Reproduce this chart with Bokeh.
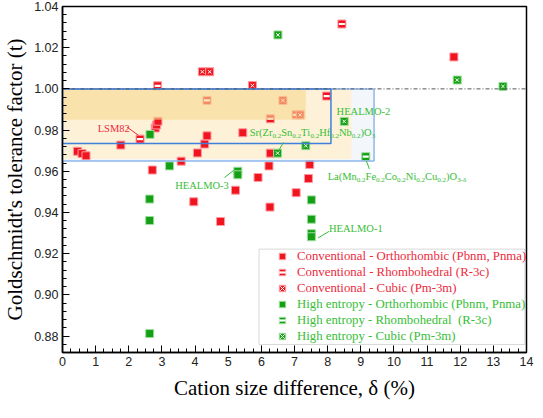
import re
import numpy as np
from bokeh.plotting import figure
from bokeh.models import (ColumnDataSource, Range1d, FixedTicker, NumeralTickFormatter,
                          Legend, LegendItem, Label, BoxAnnotation)
from bokeh.embed import file_html
from bokeh.resources import INLINE

# ---------------- data ----------------
conv_ortho_x = [0.45, 0.59, 0.71, 1.76, 2.80, 2.84, 2.88, 2.71, 3.58, 4.07, 4.29, 4.36, 3.96, 4.77,
                5.22, 5.44, 5.90, 6.23, 6.27, 6.26, 7.05, 7.42, 7.46, 11.81]
conv_ortho_y = [0.9697, 0.9686, 0.9675, 0.9727, 0.9810, 0.9825, 0.9843, 0.9606, 0.9649, 0.9689,
                0.9732, 0.9772, 0.9452, 0.9356, 0.9508, 0.9787, 0.9570, 0.9626, 0.9688, 0.9426,
                0.9496, 0.9565, 0.9633, 1.0155]
conv_rhombo_x = [2.34, 2.87, 4.36, 6.27, 7.05, 7.97, 8.43]
conv_rhombo_y = [0.9756, 1.0015, 0.9944, 0.9855, 0.9874, 0.9965, 1.0315]
conv_cubic_x = [4.22, 4.44, 5.73, 6.65, 7.17]
conv_cubic_y = [1.0083, 1.0083, 1.0016, 0.9944, 0.9874]
he_ortho_x = [2.64, 3.23, 5.29, 5.29, 2.63, 2.63, 2.63, 7.51, 7.51, 7.51, 7.51]
he_ortho_y = [0.9779, 0.9626, 0.9600, 0.9583, 0.9465, 0.9361, 0.8812, 0.9461, 0.9367, 0.9297, 0.9282]
he_rhombo_x = [9.15]
he_rhombo_y = [0.9671]
he_cubic_x = [6.50, 11.91, 13.29, 8.50, 7.34, 6.49]
he_cubic_y = [1.0262, 1.0043, 1.0012, 0.9842, 0.9724, 0.9688]

legend_labels = ["Conventional - Orthorhombic (Pbnm, Pnma)",
                 "Conventional - Rhombohedral (R-3c)",
                 "Conventional - Cubic (Pm-3m)",
                 "High entropy - Orthorhombic (Pbnm, Pnma)",
                 "High entropy - Rhombohedral  (R-3c)",
                 "High entropy - Cubic (Pm-3m)"]

# shaded regions / boxes (x0, x1, y0, y1)
outer_box = (0.0, 9.40, 0.9650, 1.000)
inner_box = (0.0, 8.10, 0.9735, 1.000)
light_band = (0.0, 8.72, 0.9660, 1.000)
dark_band = (0.0, 7.34, 0.9850, 1.000)
ref_line_y = 1.00

# annotations: text with _{sub} markup
label_texts = ["LSM82", "Sr(Zr_{0.2}Sn_{0.2}Ti_{0.2}Hf_{0.2}Nb_{0.2})O_{3}", "HEALMO-2",
               "La(Mn_{0.2}Fe_{0.2}Co_{0.2}Ni_{0.2}Cu_{0.2})O_{3-δ}", "HEALMO-3", "HEALMO-1"]
label_x = [1.06, 5.65, 8.27, 8.00, 3.40, 8.04]
label_y = [0.9810, 0.9787, 0.9889, 0.9575, 0.9532, 0.9323]
label_is_red = [True, False, False, False, False, False]
leader_x0 = [1.95, 6.67, 9.17, 4.89, 7.71]
leader_y0 = [0.9814, 0.9740, 0.9650, 0.9570, 0.9276]
leader_x1 = [2.29, 6.52, 9.26, 5.18, 8.04]
leader_y1 = [0.9775, 0.9700, 0.9611, 0.9606, 0.9308]
leader_is_red = [True, False, False, False, False]

x_ticks = list(range(0, 15))
y_ticks = [0.88, 0.90, 0.92, 0.94, 0.96, 0.98, 1.00, 1.02, 1.04]

# ---------------- style ----------------
RED = "#F0141E"
RED_HALO = "#FF9AA2"
GREEN = "#14A014"
GREEN_HALO = "#9FDC9F"
RED_TXT = "#EE2A3C"
GREEN_TXT = "#36BE36"
SERIF = "Liberation Serif"
SANS = "Liberation Sans"

p = figure(width=535, height=402, output_backend="svg", toolbar_location=None,
           x_range=Range1d(0, 14), y_range=Range1d(0.872, 1.04),
           min_border_left=54, min_border_right=9, min_border_top=6, min_border_bottom=48)
p.grid.visible = False
p.outline_line_color = "black"
p.outline_line_width = 1.5
p.background_fill_color = "white"

# regions under markers
p.quad(left=[outer_box[0]], right=[outer_box[1]], bottom=[outer_box[2]], top=[outer_box[3]],
       fill_color="#F3F7FC", line_color=None)
p.quad(left=[light_band[0]], right=[light_band[1]], bottom=[light_band[2]], top=[light_band[3]],
       fill_color="#FDF2D8", line_color=None)


def series(xs, ys, color, halo, kind):
    src = ColumnDataSource(dict(x=xs, y=ys))
    rs = [p.scatter("x", "y", source=src, marker="square", size=8, fill_color=color,
                    line_color=halo, line_width=1)]
    if kind == "rhombo":
        rs.append(p.scatter("x", "y", source=src, marker="dash", size=6, line_color="white",
                            line_width=2.2))
    elif kind == "cubic":
        rs.append(p.scatter("x", "y", source=src, marker="x", size=5, line_color="white",
                            line_width=1))
    return rs


r_co = series(conv_ortho_x, conv_ortho_y, RED, RED_HALO, "ortho")
r_cr = series(conv_rhombo_x, conv_rhombo_y, RED, RED_HALO, "rhombo")
r_cc = series(conv_cubic_x, conv_cubic_y, RED, RED_HALO, "cubic")
r_ho = series(he_ortho_x, he_ortho_y, GREEN, GREEN_HALO, "ortho")
r_hr = series(he_rhombo_x, he_rhombo_y, GREEN, GREEN_HALO, "rhombo")
r_hc = series(he_cubic_x, he_cubic_y, GREEN, GREEN_HALO, "cubic")

# dark band drawn over the markers (semi transparent)
p.quad(left=[dark_band[0]], right=[dark_band[1]], bottom=[dark_band[2]], top=[dark_band[3]],
       fill_color="#F7D78E", fill_alpha=0.6, line_color=None)

# blue boxes
p.quad(left=[outer_box[0]], right=[outer_box[1]], bottom=[outer_box[2]], top=[outer_box[3]],
       fill_color=None, line_color="#8DB6EE", line_width=1.5)
p.quad(left=[inner_box[0]], right=[inner_box[1]], bottom=[inner_box[2]], top=[inner_box[3]],
       fill_color=None, line_color="#3F7FDB", line_width=1.5)

# reference line t = 1
p.line(x=[0, 14], y=[ref_line_y, ref_line_y], line_color="#555555", line_width=1,
       line_dash="4 2 1 2")

# leader lines
p.segment(x0=leader_x0, y0=leader_y0, x1=leader_x1, y1=leader_y1,
          line_color=[RED_TXT if r else GREEN_TXT for r in leader_is_red], line_width=1)

# text labels with manual subscripts
TW = {"S": 556, "r": 333, "(": 333, ")": 333, "Z": 611, "n": 500, "T": 611, "i": 278, "H": 722,
      "f": 333, "N": 722, "b": 500, "O": 722, "L": 611, "a": 444, "M": 889, "F": 556, "e": 444,
      "C": 667, "o": 500, "u": 500, ".": 250, "-": 333, "E": 611, "A": 722, "δ": 500}
MAIN_FS = 10.5
SUB_FS = 7.0


def text_width(s, fs):
    return sum(TW.get(ch, 500) for ch in s) / 1000.0 * fs


for txt, lx, ly, red in zip(label_texts, label_x, label_y, label_is_red):
    col = RED_TXT if red else GREEN_TXT
    parts = re.split(r"(_\{[^}]*\})", txt)
    off = 0.0
    for part in parts:
        if not part:
            continue
        if part.startswith("_{"):
            s = part[2:-1]
            p.add_layout(Label(x=lx, y=ly, x_offset=off, y_offset=-3.5, text=s,
                               text_font=SERIF, text_font_size=f"{SUB_FS}px", text_color=col,
                               text_baseline="middle", text_align="left"))
            off += text_width(s, SUB_FS)
        else:
            p.add_layout(Label(x=lx, y=ly, x_offset=off, y_offset=0, text=part,
                               text_font=SERIF, text_font_size=f"{MAIN_FS}px", text_color=col,
                               text_baseline="middle", text_align="left"))
            off += text_width(part, MAIN_FS)

# axes
p.xaxis.ticker = FixedTicker(ticks=x_ticks, minor_ticks=list(np.arange(0, 14.001, 0.25)))
p.yaxis.ticker = FixedTicker(ticks=y_ticks, minor_ticks=list(np.arange(0.872, 1.0401, 0.004)))
p.yaxis.formatter = NumeralTickFormatter(format="0.00")
for ax in (p.xaxis, p.yaxis):
    ax.axis_line_color = "black"
    ax.axis_line_width = 1.5
    ax.major_tick_in = 7
    ax.major_tick_out = 0
    ax.minor_tick_in = 4
    ax.minor_tick_out = 0
    ax.major_tick_line_color = "black"
    ax.minor_tick_line_color = "black"
    ax.major_label_text_font = SANS
    ax.major_label_text_font_size = "12.5px"
    ax.major_label_text_color = "#222222"
    ax.axis_label_text_font = SERIF
    ax.axis_label_text_font_size = "21px"
    ax.axis_label_text_font_style = "normal"
    ax.axis_label_text_color = "black"
p.xaxis.major_label_standoff = 4
p.xaxis.axis_label_standoff = 7
p.yaxis.major_label_standoff = 4
p.yaxis.axis_label_standoff = 4
p.xaxis.axis_label = "Cation size difference, δ (%)"
p.yaxis.axis_label = "Goldschmidt's tolerance factor (t)"

# legend box + two legends (red and green text)
p.add_layout(BoxAnnotation(left=5.93, right=13.95, bottom=0.8759, top=0.9222,
                           fill_color="white", fill_alpha=1.0, line_color="#808080",
                           line_width=1))

common = dict(background_fill_alpha=0, border_line_alpha=0, padding=0, margin=0, spacing=0,
              glyph_height=16, glyph_width=20, label_height=16, label_standoff=5,
              label_text_font=SERIF, label_text_font_size="12.8px")
leg1 = Legend(items=[LegendItem(label=legend_labels[0], renderers=r_co),
                     LegendItem(label=legend_labels[1], renderers=r_cr),
                     LegendItem(label=legend_labels[2], renderers=r_cc)],
              location=(210, 56), label_text_color=RED_TXT, **common)
leg2 = Legend(items=[LegendItem(label=legend_labels[3], renderers=r_ho),
                     LegendItem(label=legend_labels[4], renderers=r_hr),
                     LegendItem(label=legend_labels[5], renderers=r_hc)],
              location=(210, 8), label_text_color=GREEN_TXT, **common)
p.add_layout(leg1)
p.add_layout(leg2)

open("out.html", "w").write(file_html(p, INLINE))
